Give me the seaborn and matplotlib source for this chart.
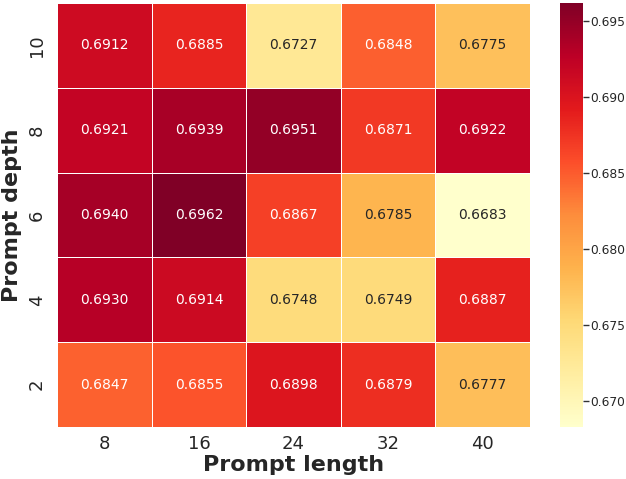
import numpy as np
import pandas as pd
import seaborn as sns
import matplotlib
matplotlib.use('Agg')
import matplotlib.pyplot as plt

lengths = [8, 16, 24, 32, 40]
depths = [10, 8, 6, 4, 2]

# rows follow depths (top to bottom)
row_10 = [0.6912, 0.6885, 0.6727, 0.6848, 0.6775]
row_8 = [0.6921, 0.6939, 0.6951, 0.6871, 0.6922]
row_6 = [0.6940, 0.6962, 0.6867, 0.6785, 0.6683]
row_4 = [0.6930, 0.6914, 0.6748, 0.6749, 0.6887]
row_2 = [0.6847, 0.6855, 0.6898, 0.6879, 0.6777]

dados = pd.DataFrame([row_10, row_8, row_6, row_4, row_2], index=depths, columns=lengths)

sns.set_theme(style='white')
fig = plt.figure(figsize=(6.26, 4.79), dpi=100)
W, H = 626, 479
ax = fig.add_axes([57 / W, (H - 427) / H, (530 - 57) / W, 424 / H])
cax = fig.add_axes([560 / W, (H - 427) / H, 23 / W, 424 / H])
sns.heatmap(dados, annot=True, fmt='.4f', cmap='YlOrRd', linewidths=0.7, linecolor='white',
            annot_kws={'size': 10}, ax=ax, cbar_ax=cax,
            cbar_kws={'ticks': [0.670, 0.675, 0.680, 0.685, 0.690, 0.695]})
ax.set_xlabel('Prompt length', fontsize=16, fontweight='bold', labelpad=1)
ax.set_ylabel('Prompt depth', fontsize=16, fontweight='bold')
ax.tick_params(axis='x', labelsize=13, length=0, pad=6)
ax.tick_params(axis='y', labelsize=13, length=0, pad=8)
plt.setp(ax.get_yticklabels(), rotation=90, va='center')
cax.tick_params(labelsize=8.8, length=4, width=1, pad=1, color='#333333')
cax.yaxis.set_major_formatter(matplotlib.ticker.FormatStrFormatter('%.3f'))

fig.savefig('out.png', dpi=100)
